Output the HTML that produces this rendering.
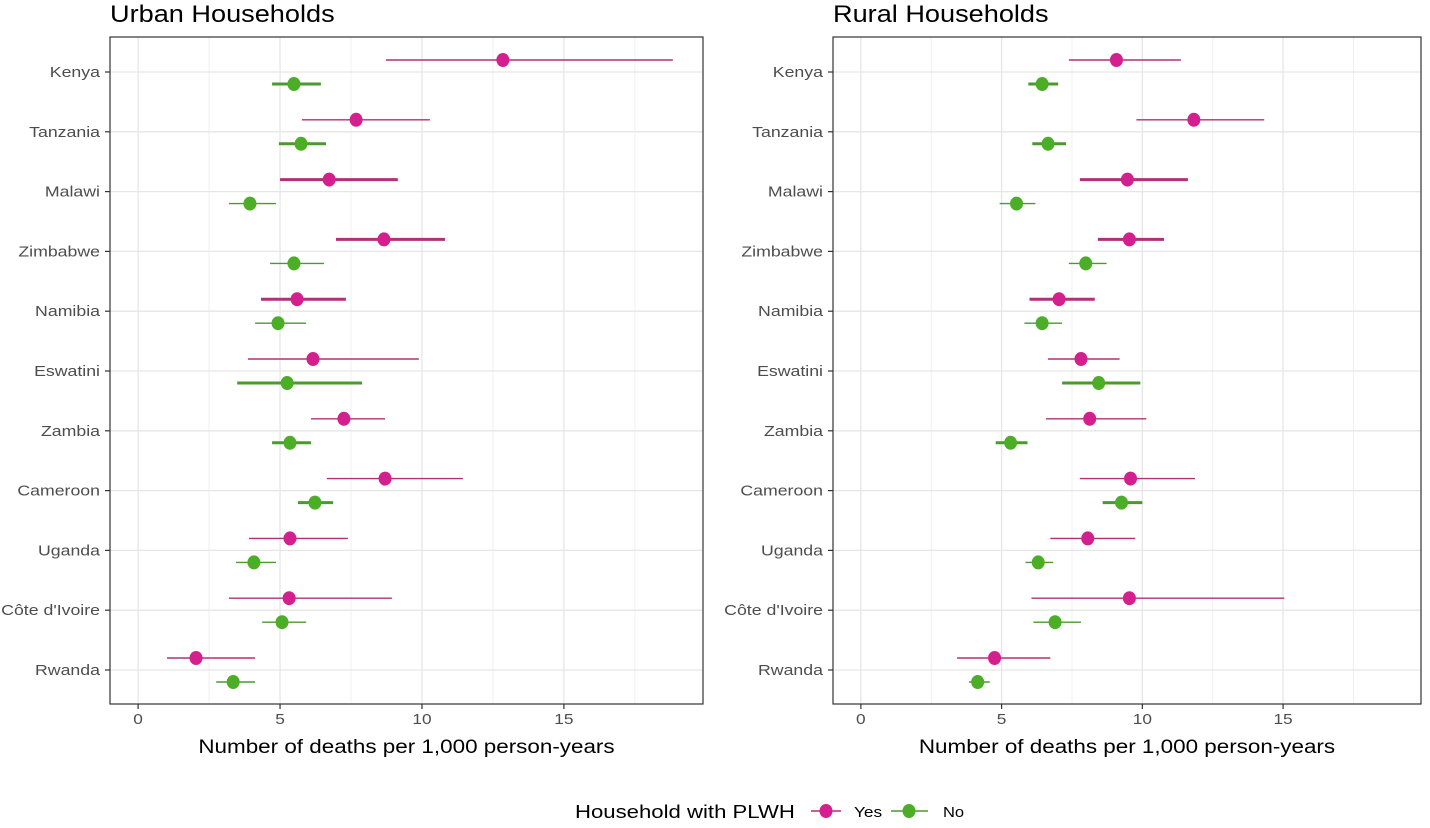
<!DOCTYPE html>
<html><head><meta charset="utf-8"><style>
body{margin:0;background:#fff;}
svg{display:block;font-family:"Liberation Sans",sans-serif;}
</style></head><body>
<svg id="chart" width="1430" height="828"></svg>
<script>
const countries=["Kenya","Tanzania","Malawi","Zimbabwe","Namibia","Eswatini","Zambia","Cameroon","Uganda","Côte d'Ivoire","Rwanda"];
const xTicks=[0,5,10,15];
const xMinor=[2.5,7.5,12.5,17.5];
const urbanYes=[12.85,7.68,6.73,8.66,5.6,6.16,7.25,8.70,5.35,5.32,2.04];
const urbanYesLo=[8.73,5.77,5.0,6.97,4.33,3.87,6.09,6.65,3.91,3.2,1.02];
const urbanYesHi=[18.84,10.28,9.15,10.81,7.32,9.89,8.70,11.44,7.39,8.94,4.12];
const urbanYesThick=[0,0,1,1,1,0,0,0,0,0,0];
const urbanNo=[5.49,5.74,3.94,5.49,4.93,5.25,5.35,6.23,4.08,5.07,3.35];
const urbanNoLo=[4.72,4.96,3.2,4.65,4.12,3.49,4.72,5.63,3.45,4.37,2.75];
const urbanNoHi=[6.44,6.62,4.86,6.55,5.92,7.89,6.09,6.87,4.86,5.92,4.12];
const urbanNoThick=[1,1,0,0,0,1,1,1,0,0,0];
const ruralYes=[9.08,11.83,9.47,9.54,7.04,7.82,8.13,9.58,8.06,9.54,4.75];
const ruralYesLo=[7.39,9.79,7.78,8.42,5.99,6.65,6.58,7.78,6.73,6.06,3.42];
const ruralYesHi=[11.37,14.33,11.62,10.77,8.31,9.19,10.14,11.87,9.75,15.04,6.73];
const ruralYesThick=[0,0,1,1,1,0,0,0,0,0,0];
const ruralNo=[6.44,6.65,5.53,7.99,6.44,8.45,5.32,9.26,6.3,6.9,4.15];
const ruralNoLo=[5.95,6.09,4.93,7.39,5.81,7.15,4.79,8.59,5.85,6.13,3.84];
const ruralNoHi=[7.01,7.29,6.2,8.73,7.15,9.93,5.92,10.0,6.83,7.82,4.58];
const ruralNoThick=[1,1,0,0,0,1,1,1,0,0,0];

const NS="http://www.w3.org/2000/svg";
const svg=document.getElementById('chart');
function mk(tag,attrs,parent,text){const e=document.createElementNS(NS,tag);for(const k in attrs)e.setAttribute(k,attrs[k]);if(text!==undefined)e.textContent=text;(parent||svg).appendChild(e);return e;}
function stretch(el,f){const w=el.getComputedTextLength();el.setAttribute('textLength',w*f);el.setAttribute('lengthAdjust','spacingAndGlyphs');}
const YES_PT="#d4208f",YES_LN="#b0307a",NO_PT="#4cae27",NO_LN="#4a9a2e";
const plotTop=37,plotBottom=704;
function rowY(i){return 72+i*59.8;}
function panel(name,title,x0,x1,yesV,yesLo,yesHi,yesTh,noV,noLo,noHi,noTh){
  const g=mk('g',{});
  
  
  const dmin=-0.99,dmax=19.9;
  const sx=v=>x0+(v-dmin)/(dmax-dmin)*(x1-x0);
  const t=mk('text',{x:x0,y:22,'font-size':24,fill:'#000'},g,title);
  
  
  stretch(t,1.13);
  xMinor.forEach(v=>mk('line',{x1:sx(v),x2:sx(v),y1:plotTop,y2:plotBottom,stroke:'#f0f0f0','stroke-width':1},g));
  xTicks.forEach(v=>mk('line',{x1:sx(v),x2:sx(v),y1:plotTop,y2:plotBottom,stroke:'#e6e6e6','stroke-width':1.3},g));
  countries.forEach((c,i)=>{
    const y=rowY(i);
    mk('line',{x1:x0,x2:x1,y1:y,y2:y,stroke:'#e6e6e6','stroke-width':1.3},g);
    mk('line',{x1:x0-5,x2:x0,y1:y,y2:y,stroke:'#333','stroke-width':1.2},g);
    const l=mk('text',{x:x0-10,y:y+5,'font-size':15,fill:'#4d4d4d','text-anchor':'end'},g,c);
    
    
    stretch(l,1.18);
  });
  xTicks.forEach(v=>{
    mk('line',{x1:sx(v),x2:sx(v),y1:plotBottom,y2:plotBottom+5,stroke:'#333','stroke-width':1.2},g);
    const l=mk('text',{x:sx(v),y:plotBottom+20,'font-size':15,fill:'#4d4d4d','text-anchor':'middle'},g,String(v));
    
    
    stretch(l,1.15);
  });
  mk('rect',{x:x0,y:plotTop,width:x1-x0,height:plotBottom-plotTop,fill:'none',stroke:'#333','stroke-width':1.2},g);
  const at=mk('text',{x:(x0+x1)/2,y:753,'font-size':19,fill:'#000','text-anchor':'middle'},g,'Number of deaths per 1,000 person-years');
  
  
  stretch(at,1.18);
  countries.forEach((c,i)=>{
    const yy=rowY(i)-12, yn=rowY(i)+12;
    const a=mk('line',{x1:sx(yesLo[i]),x2:sx(yesHi[i]),y1:yy,y2:yy,stroke:YES_LN,'stroke-width':yesTh[i]?3:1.4},g);
    
    
    const p=mk('ellipse',{cx:sx(yesV[i]),cy:yy,rx:6.5,ry:7,fill:YES_PT},g);
    
    
    const b=mk('line',{x1:sx(noLo[i]),x2:sx(noHi[i]),y1:yn,y2:yn,stroke:NO_LN,'stroke-width':noTh[i]?3:1.4},g);
    
    
    const q=mk('ellipse',{cx:sx(noV[i]),cy:yn,rx:6.5,ry:7,fill:NO_PT},g);
    
    
  });
}
panel('urban-panel','Urban Households',110,703,urbanYes,urbanYesLo,urbanYesHi,urbanYesThick,urbanNo,urbanNoLo,urbanNoHi,urbanNoThick);
panel('rural-panel','Rural Households',833,1421,ruralYes,ruralYesLo,ruralYesHi,ruralYesThick,ruralNo,ruralNoLo,ruralNoHi,ruralNoThick);

const lg=mk('g',{});


const lt=mk('text',{x:575,y:818,'font-size':18,fill:'#000'},lg,'Household with PLWH');


stretch(lt,1.23);
mk('line',{x1:811,x2:841,y1:811,y2:811,stroke:YES_LN,'stroke-width':1.4},lg);
const e1=mk('ellipse',{cx:826,cy:811,rx:6.5,ry:7,fill:YES_PT},lg);


const ty=mk('text',{x:854,y:817,'font-size':15,fill:'#000'},lg,'Yes');
stretch(ty,1.15);
mk('line',{x1:891,x2:928,y1:811,y2:811,stroke:NO_LN,'stroke-width':1.4},lg);
const e2=mk('ellipse',{cx:909,cy:811,rx:6.5,ry:7,fill:NO_PT},lg);


const tn=mk('text',{x:943,y:817,'font-size':15,fill:'#000'},lg,'No');
stretch(tn,1.1);
</script>
</body></html>
